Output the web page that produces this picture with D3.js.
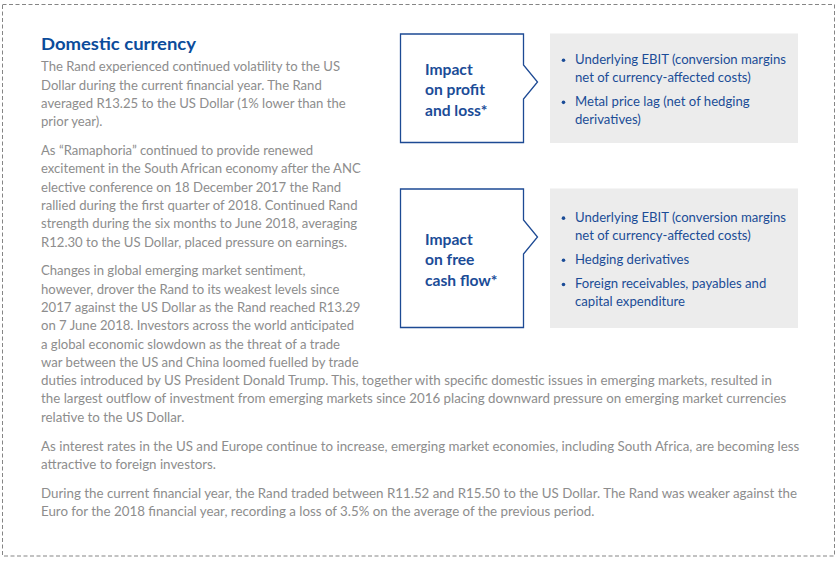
<!DOCTYPE html>
<html><head><meta charset="utf-8">
<script src="https://cdn.jsdelivr.net/npm/d3@7"></script>
<style>body{margin:0;background:#fff}svg{display:block}</style></head>
<body><svg id="c" width="840" height="561"></svg>
<script>
const title = "Domestic currency";
const para1 = ["The Rand experienced continued volatility to the US","Dollar during the current financial year. The Rand","averaged R13.25 to the US Dollar (1% lower than the","prior year)."];
const para2 = ["As \u201cRamaphoria\u201d continued to provide renewed","excitement in the South African economy after the ANC","elective conference on 18 December 2017 the Rand","rallied during the first quarter of 2018. Continued Rand","strength during the six months to June 2018, averaging","R12.30 to the US Dollar, placed pressure on earnings."];
const para3 = ["Changes in global emerging market sentiment,","however, drover the Rand to its weakest levels since","2017 against the US Dollar as the Rand reached R13.29","on 7 June 2018. Investors across the world anticipated","a global economic slowdown as the threat of a trade","war between the US and China loomed fuelled by trade","duties introduced by US President Donald Trump. This, together with specific domestic issues in emerging markets, resulted in","the largest outflow of investment from emerging markets since 2016 placing downward pressure on emerging market currencies","relative to the US Dollar."];
const para4 = ["As interest rates in the US and Europe continue to increase, emerging market economies, including South Africa, are becoming less","attractive to foreign investors."];
const para5 = ["During the current financial year, the Rand traded between R11.52 and R15.50 to the US Dollar. The Rand was weaker against the","Euro for the 2018 financial year, recording a loss of 3.5% on the average of the previous period."];
const paragraphs = [para1, para2, para3, para4, para5];
const panelTitles = [["Impact","on profit","and loss*"],["Impact","on free","cash flow*"]];
const panelBullets = [
  [["Underlying EBIT (conversion margins","net of currency-affected costs)"],["Metal price lag (net of hedging","derivatives)"]],
  [["Underlying EBIT (conversion margins","net of currency-affected costs)"],["Hedging derivatives"],["Foreign receivables, payables and","capital expenditure"]]
];

const FONT = "Lato, 'Noto Sans', sans-serif";
const BLUE = "#0b4c9b", TBLUE = "#1b4c97", GRAY = "#8d8d8d", FILL = "#ececec";
const svg = d3.select("#c");

// outer dashed frame
svg.append("rect").attr("x",2.5).attr("y",4.5).attr("width",832).attr("height",551.5)
  .attr("fill","none").attr("stroke","#858585").attr("stroke-width",1).attr("stroke-dasharray","4,2.5");

// condense helper: scale each line horizontally by a factor derived from a reference line width
function condense(sel, refWidth){
  const nodes = sel.nodes();
  if (!nodes.length) return;
  const w0 = nodes[0].getComputedTextLength();
  const k = refWidth / w0;
  nodes.forEach(n => {
    const w = n.getComputedTextLength();
    d3.select(n).attr("textLength", w*k).attr("lengthAdjust","spacingAndGlyphs");
  });
}

// title
const t = svg.append("text").attr("x",41).attr("y",50).text(title)
  .attr("font-family",FONT).attr("font-weight",700).attr("font-size",17.5).attr("fill",BLUE);
condense(t, 155);

// body text
const LH = 18.3, PGAP = 10.5, PANEL_END = 370;
const lines = [];
let y = 71.3;
paragraphs.forEach((p,pi) => {
  if (pi>0) y += PGAP;
  p.forEach(s => { lines.push({s, y}); y += LH; });
});
const bodyG = svg.append("g");
const colText = bodyG.selectAll("text.col").data(lines.filter(d=>d.y<PANEL_END)).join("text").attr("class","col");
const fullText = bodyG.selectAll("text.full").data(lines.filter(d=>d.y>=PANEL_END)).join("text").attr("class","full");
[colText, fullText].forEach(s => s.attr("x",41).attr("y",d=>d.y).text(d=>d.s)
  .attr("font-family",FONT).attr("font-size",13.2).attr("fill",GRAY));
condense(colText, 299);
condense(fullText, 731);

// panels
const panels = [{top:34, bottom:142.5},{top:189, bottom:327.5}];
const L = 400.5, R = 523.5, TIP = 537.5;
panels.forEach((pn,i) => {
  const a1 = pn.top+31, a2 = pn.top+65, am = pn.top+48;
  const path = d3.path();
  path.moveTo(L,pn.top); path.lineTo(R,pn.top); path.lineTo(R,a1); path.lineTo(TIP,am);
  path.lineTo(R,a2); path.lineTo(R,pn.bottom); path.lineTo(L,pn.bottom); path.closePath();
  svg.append("path").attr("d",path.toString()).attr("fill","#fff").attr("stroke","#1d4a94").attr("stroke-width",1.3);
  svg.append("rect").attr("x",550).attr("y",pn.top-0.5).attr("width",248).attr("height",pn.bottom-pn.top+1).attr("fill",FILL);

  const cy = (pn.top+pn.bottom)/2;
  const tl = panelTitles[i];
  const TLH = 20.3;
  const tt = svg.append("g").selectAll("text").data(tl).join("text")
    .attr("x",425).attr("y",(d,j)=>cy+7-TLH*(tl.length-1)/2+j*TLH).text(d=>d)
    .attr("font-family",FONT).attr("font-weight",700).attr("font-size",14.8).attr("fill",TBLUE);
  condense(tt, 47.7);

  const bl = panelBullets[i];
  const BLH = 17.9, BGAP = 24.2;
  const items = []; let by = 0;
  bl.forEach((b,bi) => {
    if (bi>0) by += BGAP;
    b.forEach((s,si) => { items.push({s, y:by, first: si===0}); if (si<b.length-1) by += BLH; });
  });
  const span = by;
  const y0 = cy + 6 - span/2;
  const g = svg.append("g");
  g.selectAll("circle").data(items.filter(d=>d.first)).join("circle")
    .attr("cx",563.5).attr("cy",d=>y0+d.y-4).attr("r",1.8).attr("fill",TBLUE);
  const bt = g.selectAll("text").data(items).join("text")
    .attr("x",575).attr("y",d=>y0+d.y).text(d=>d.s)
    .attr("font-family",FONT).attr("font-size",13.2).attr("fill",TBLUE);
  condense(bt, 211);
});
</script></body></html>
